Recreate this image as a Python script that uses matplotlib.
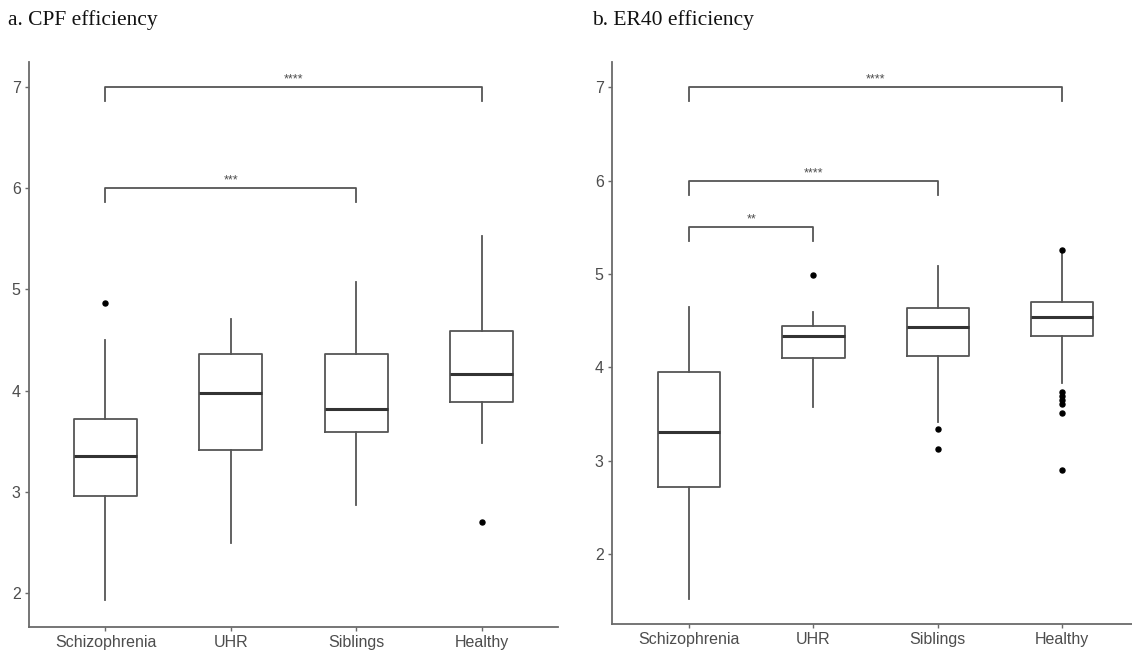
"""Box plots of CPF and ER40 efficiency by group, with significance brackets."""
import matplotlib
matplotlib.use("Agg")
import matplotlib.pyplot as plt

GROUPS = ["Schizophrenia", "UHR", "Siblings", "Healthy"]

# CPF efficiency: lower whisker, Q1, median, Q3, upper whisker, outliers
CPF_WLO = [1.93, 2.49, 2.87, 3.48]
CPF_Q1 = [2.96, 3.41, 3.59, 3.89]
CPF_MED = [3.35, 3.98, 3.82, 4.16]
CPF_Q3 = [3.72, 4.36, 4.36, 4.59]
CPF_WHI = [4.50, 4.71, 5.07, 5.53]
CPF_FLIERS = [[4.87], [], [], [2.70]]

# ER40 efficiency
ER_WLO = [1.52, 3.57, 3.41, 3.83]
ER_Q1 = [2.72, 4.10, 4.12, 4.34]
ER_MED = [3.31, 4.34, 4.43, 4.54]
ER_Q3 = [3.95, 4.44, 4.63, 4.70]
ER_WHI = [4.65, 4.59, 5.08, 5.22]
ER_FLIERS = [[], [4.99], [3.34, 3.12], [5.26, 3.73, 3.69, 3.65, 3.61, 3.51, 2.90]]

# significance brackets: (group i, group j, height, label)
CPF_SIG = [(0, 3, 7.0, "****"), (0, 2, 6.0, "***")]
ER_SIG = [(0, 3, 7.0, "****"), (0, 2, 6.0, "****"), (0, 1, 5.5, "**")]

GREY = "#555555"
TEXT_GREY = "#4d4d4d"


def make_stats(wlo, q1, med, q3, whi, fliers):
    return [dict(whislo=a, q1=b, med=c, q3=d, whishi=e, fliers=f)
            for a, b, c, d, e, f in zip(wlo, q1, med, q3, whi, fliers)]


def draw_panel(ax, stats, sigs, ylim, xlim):
    pos = list(range(1, len(GROUPS) + 1))
    ax.bxp(stats, positions=pos, widths=0.5, showcaps=False,
           boxprops=dict(color=GREY, lw=1.3),
           whiskerprops=dict(color=GREY, lw=1.3),
           medianprops=dict(color="#333333", lw=2.2),
           flierprops=dict(marker="o", markerfacecolor="black",
                           markeredgecolor="black", markersize=3.6))
    ax.set_ylim(*ylim)
    ax.set_xlim(*xlim)
    ax.set_xticks(pos)
    ax.set_xticklabels(GROUPS)
    ax.set_yticks([2, 3, 4, 5, 6, 7])
    tip = 0.025 * (ylim[1] - ylim[0])
    for i, j, h, lab in sigs:
        xi, xj = pos[i], pos[j]
        ax.plot([xi, xi, xj, xj], [h - tip, h, h, h - tip], color=GREY, lw=1.3)
        ax.annotate(lab, ((xi + xj) / 2, h), xytext=(0, 1.0),
                    textcoords="offset points", ha="center", va="bottom",
                    fontsize=9, color=TEXT_GREY)
    for side in ("top", "right"):
        ax.spines[side].set_visible(False)
    for side in ("left", "bottom"):
        ax.spines[side].set_color("#6a6a6a")
        ax.spines[side].set_linewidth(1.3)
    ax.tick_params(colors="#6a6a6a", labelcolor=TEXT_GREY, length=3,
                   width=1.0, labelsize=11.5, pad=3)


plt.rcParams["font.family"] = ["Liberation Sans", "DejaVu Sans"]
fig = plt.figure(figsize=(11.32, 6.52), dpi=100)

ax_a = fig.add_axes([29 / 1132, 25 / 652, 529 / 1132, 565 / 652])
draw_panel(ax_a, make_stats(CPF_WLO, CPF_Q1, CPF_MED, CPF_Q3, CPF_WHI, CPF_FLIERS),
           CPF_SIG, (1.663, 7.248), (0.39, 4.61))

ax_b = fig.add_axes([612 / 1132, 28 / 652, 526 / 1132, 562 / 652])
draw_panel(ax_b, make_stats(ER_WLO, ER_Q1, ER_MED, ER_Q3, ER_WHI, ER_FLIERS),
           ER_SIG, (1.25, 7.27), (0.38, 4.61))

fig.text(8 / 1132, 1 - 20 / 652, "a. CPF efficiency", family="Liberation Serif",
         fontsize=15.5, va="center", ha="left", color="#111111")
fig.text(592 / 1132, 1 - 20 / 652, "b. ER40 efficiency", family="Liberation Serif",
         fontsize=15.5, va="center", ha="left", color="#111111")

fig.savefig("out.png", dpi=100)
